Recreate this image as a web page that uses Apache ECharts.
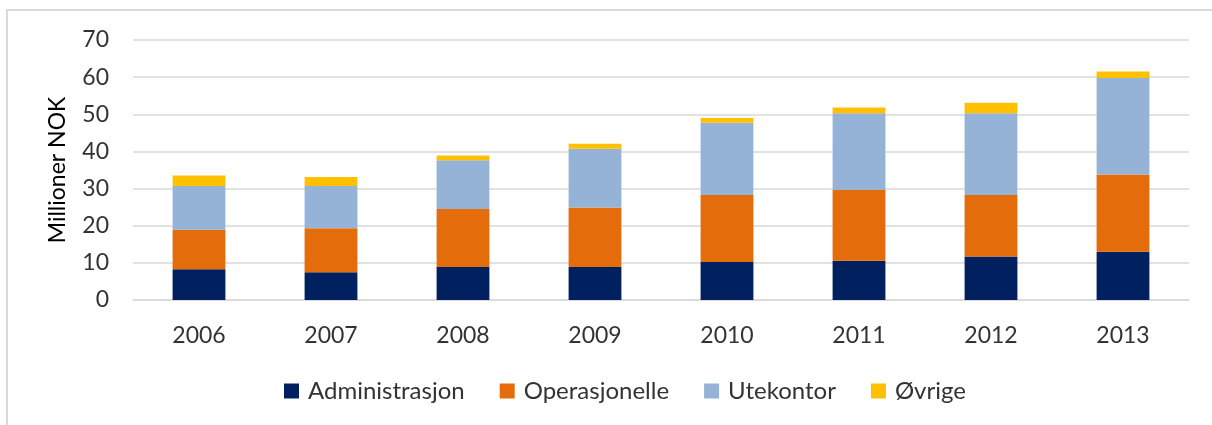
<!DOCTYPE html>
<html>
<head>
<meta charset="utf-8">
<script src="https://cdn.jsdelivr.net/npm/echarts@6/dist/echarts.min.js"></script>
<style>
  html, body { margin: 0; padding: 0; background: #ffffff; }
  #chart { width: 1212px; height: 425px; }
</style>
</head>
<body>
<div id="chart"></div>
<script>
// Kostnader fordelt på kategori, millioner NOK
const years = ['2006', '2007', '2008', '2009', '2010', '2011', '2012', '2013'];
const administrasjon = [8.3, 7.5, 8.9, 8.9, 10.2, 10.6, 11.7, 13.0];
const operasjonelle  = [10.6, 11.8, 15.6, 16.0, 18.1, 19.0, 16.6, 20.8];
const utekontor      = [11.8, 11.4, 13.1, 15.8, 19.4, 20.7, 22.0, 26.0];
const ovrige         = [2.8, 2.4, 1.3, 1.4, 1.3, 1.5, 2.8, 1.7];
const seriesNames = ['Administrasjon', 'Operasjonelle', 'Utekontor', 'Øvrige'];
const seriesColors = ['#002060', '#E46C0A', '#95B3D7', '#FFC000'];

const FONT = 'Lato, "Open Sans", sans-serif';
const TEXT = '#333333';

const chart = echarts.init(document.getElementById('chart'), null, { renderer: 'canvas' });

const dataSets = [administrasjon, operasjonelle, utekontor, ovrige];

chart.setOption({
  backgroundColor: '#ffffff',
  animation: false,
  graphic: [{
    type: 'rect',
    shape: { x: 7, y: 10, width: 1230, height: 440 },
    style: { fill: 'none', stroke: '#d9d9d9', lineWidth: 2 },
    silent: true
  }],
  grid: { left: 133, right: 23, top: 40, bottom: 125 },
  legend: {
    top: 374,
    left: 279,
    itemWidth: 15,
    itemHeight: 15,
    itemGap: 35,
    icon: 'rect',
    textStyle: { fontFamily: FONT, fontSize: 24, color: TEXT, padding: [0, 0, 0, 4] },
    data: seriesNames
  },
  xAxis: {
    type: 'category',
    data: years,
    axisLine: { show: true, lineStyle: { color: '#d9d9d9', width: 1.5 } },
    axisTick: { show: false },
    axisLabel: { fontFamily: FONT, fontSize: 23, color: TEXT, margin: 24 }
  },
  yAxis: {
    type: 'value',
    min: 0,
    max: 70,
    interval: 10,
    name: 'Millioner NOK',
    nameLocation: 'middle',
    nameGap: 64,
    nameTextStyle: { fontFamily: FONT, fontSize: 23, color: '#000000' },
    axisLine: { show: false },
    axisTick: { show: false },
    axisLabel: { fontFamily: FONT, fontSize: 23, color: TEXT, margin: 24 },
    splitLine: { lineStyle: { color: '#d9d9d9', width: 1.5 } }
  },
  series: seriesNames.map((name, i) => ({
    name: name,
    type: 'bar',
    stack: 'total',
    barWidth: '40%',
    itemStyle: { color: seriesColors[i] },
    data: dataSets[i]
  }))
});
</script>
</body>
</html>
